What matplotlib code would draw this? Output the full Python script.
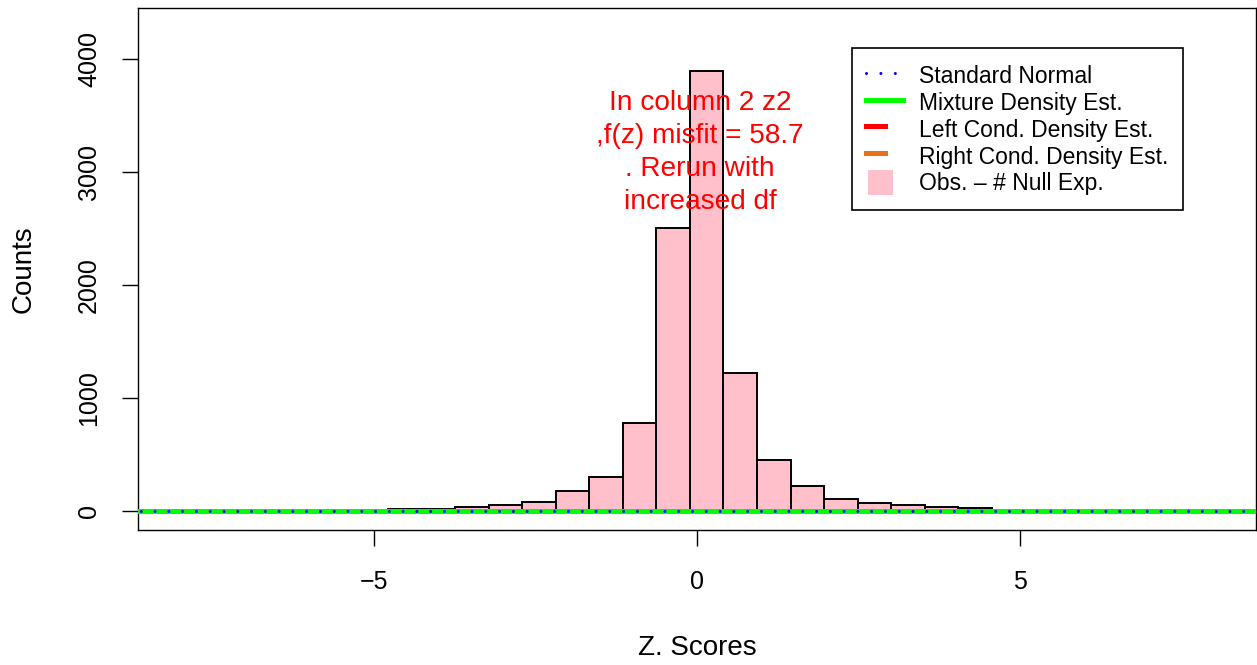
import matplotlib
matplotlib.use("Agg")
import matplotlib.pyplot as plt
import numpy as np
from matplotlib.lines import Line2D
from matplotlib.patches import Patch, Rectangle
from matplotlib.legend_handler import HandlerLine2D, HandlerPatch

# ---- data ----
bin_start = -4.78
bin_width = 0.519
counts = [15, 15, 33, 50, 80, 171, 295, 779, 2504, 3894, 1221, 445, 215, 106, 71, 53, 30, 20]
x_ticks = [-5, 0, 5]
y_ticks = [0, 1000, 2000, 3000, 4000]
x_limit = 8.65
legend_labels = ["Standard Normal", "Mixture Density Est.", "Left Cond. Density Est.",
                 "Right Cond. Density Est.", "Obs. \u2013 # Null Exp."]
note_text = "In column 2 z2\n,f(z) misfit = 58.7\n. Rerun with\nincreased df"
x_label = "Z. Scores"
y_label = "Counts"

plt.rcParams['font.family'] = ['Liberation Sans', 'DejaVu Sans']

W, H = 1257, 665
fig = plt.figure(figsize=(W / 100, H / 100), dpi=100)
L, R, T, B = 138, 1256, 8, 530
ax = fig.add_axes([L / W, (H - B) / H, (R - L) / W, (B - T) / H])

edges = bin_start + bin_width * np.arange(len(counts) + 1)
ax.bar(edges[:-1], counts, width=bin_width, align='edge', color='#FFC0CB',
       edgecolor='black', linewidth=1.4, zorder=2)

ax.axhline(0, color='#FF0000', lw=3.6, zorder=3)
ax.axhline(0, color='#E8711A', lw=3.6, zorder=3)
ax.axhline(0, color='#00FF00', lw=3.6, zorder=4)
ax.axhline(0, color='#0000FF', lw=2.2, linestyle=(3.6, (0.01, 4.5)),
           dash_capstyle='round', zorder=5)

ymax = 1.1 * max(counts)
pad = 0.04 * ymax
ax.set_ylim(-pad, ymax + pad)
ax.set_xlim(-x_limit, x_limit)

ax.set_xticks(x_ticks)
ax.set_yticks(y_ticks)
ax.set_yticklabels([str(v) for v in y_ticks], rotation=90, va='center')
ax.tick_params(axis='both', direction='out', length=11.5, width=1.0, labelsize=18)
ax.tick_params(axis='x', pad=17)
ax.tick_params(axis='y', pad=15)
for s in ax.spines.values():
    s.set_linewidth(1.0)

ax.set_xlabel(x_label, fontsize=20, labelpad=30)
ax.set_ylabel(y_label, fontsize=20, labelpad=29.5)

ax.text(0.05, 3175, note_text, color='#FF0000', fontsize=20.2, ha='center', va='center',
        linespacing=1.34, zorder=6)

class HandlerShort(HandlerLine2D):
    def __init__(self, frac, **kw):
        super().__init__(**kw)
        self.frac = frac
    def create_artists(self, legend, orig_handle, xdescent, ydescent, width, height,
                       fontsize, trans):
        return super().create_artists(legend, orig_handle, xdescent, ydescent,
                                      width * self.frac, height, fontsize, trans)

def square_patch(legend, orig_handle, xdescent, ydescent, width, height, fontsize):
    s = 18.0
    return Rectangle((width / 2 - s / 2 - xdescent - 3, height / 2 - s / 2 - ydescent), s, s)

h_blue = Line2D([], [], color='#0000FF', lw=2.2, linestyle=(0, (0.01, 4.7)),
                dash_capstyle='round')
h_green = Line2D([], [], color='#00FF00', lw=3.6)
h_red = Line2D([], [], color='#FF0000', lw=3.6)
h_orange = Line2D([], [], color='#E8711A', lw=3.6)
h_pink = Patch(facecolor='#FFC0CB', edgecolor='none')

leg = ax.legend([h_blue, h_green, h_red, h_orange, h_pink], legend_labels,
                loc='upper left',
                bbox_to_anchor=((852 - L) / (R - L), (B - 48) / (B - T)),
                borderaxespad=0, fontsize=16.5, frameon=True, fancybox=False,
                edgecolor='black', framealpha=1, borderpad=0.63,
                handlelength=1.6, handleheight=1.35, handletextpad=0.7,
                labelspacing=0.05,
                handler_map={h_red: HandlerShort(0.5), h_orange: HandlerShort(0.5),
                             h_pink: HandlerPatch(patch_func=square_patch)})
leg.get_frame().set_linewidth(1.2)
leg.set_zorder(7)

fig.savefig("out.png", dpi=100)
